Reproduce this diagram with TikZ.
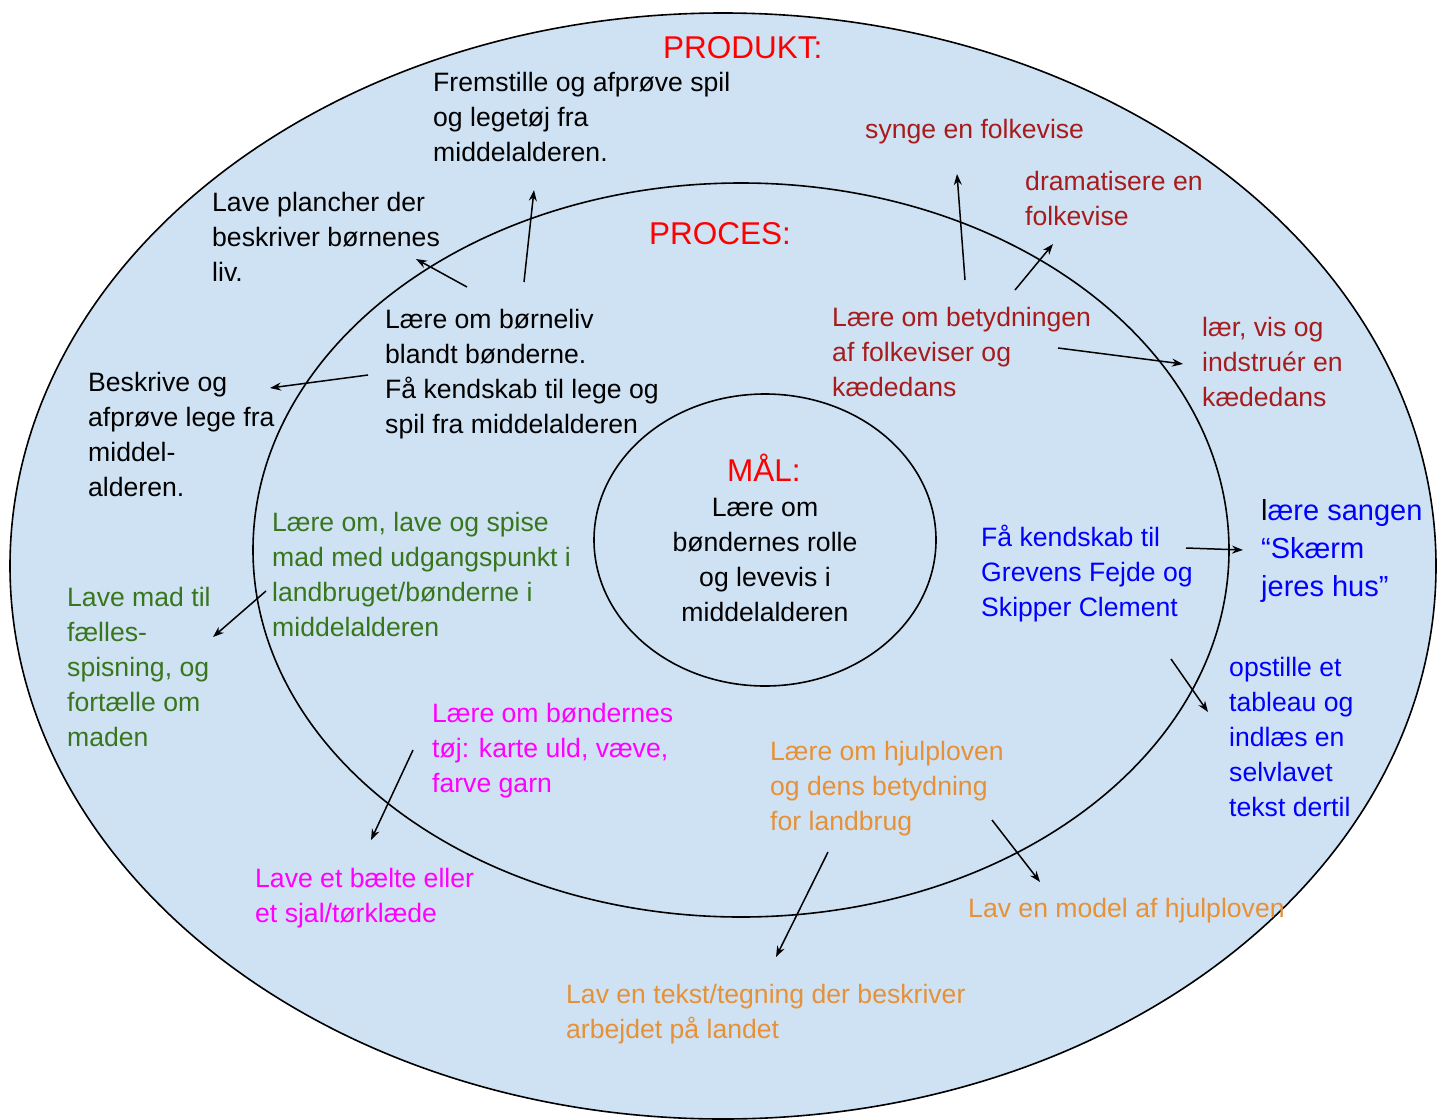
\documentclass[tikz,border=0pt]{standalone}
\usepackage{fontspec}
\setmainfont{Liberation Sans}
\usetikzlibrary{arrows.meta}
\definecolor{bgblue}{HTML}{CFE2F3}
\definecolor{hdred}{HTML}{FF0000}
\definecolor{dred}{HTML}{A61C1C}
\definecolor{dgreen}{HTML}{38761D}
\definecolor{mag}{HTML}{FF00FF}
\definecolor{orng}{HTML}{E69138}
\definecolor{blu}{HTML}{0000FF}
\newcommand{\fl}{\rule{0pt}{25pt}}
\newcommand{\flb}{\rule{0pt}{27pt}}
\tikzset{
 txt/.style={font=\fontsize{26.6}{35}\selectfont, align=left, anchor=north west, inner sep=0pt},
 hd/.style={font=\fontsize{31.5}{38}\selectfont, text=hdred, anchor=base west, inner sep=0pt},
 arr/.style={line width=1.5pt, -{Stealth[length=11pt,width=8pt]}},
 ring/.style={draw=black, line width=1.6pt},
}
\begin{document}
\begin{tikzpicture}[x=1pt,y=-1pt]
\useasboundingbox (0,0) rectangle (1445,1119);
\fill[white] (0,0) rectangle (1445,1119);
% rings
\begin{scope}
\clip (0,0) rectangle (1445,1119);
\draw[ring, fill=bgblue] (723,566) ellipse [x radius=713, y radius=553];
\end{scope}
\draw[ring] (741,550) ellipse [x radius=488, y radius=367];
\draw[ring] (765,540) ellipse [x radius=171, y radius=146];
% headings
\node[hd] (produkt) at (663,58) {PRODUKT:};
\node[hd] (proces) at (649,244) {PROCES:};
\node[hd] (maal) at (727,481) {MÅL:};
% centre
\node[txt, align=center, anchor=north] (goal) at (765,491) {\fl Lære om\\bøndernes rolle\\og levevis i\\middelalderen};
% black group
\node[txt] (fremstille) at (433,66) {\fl Fremstille og afprøve spil\\og legetøj fra\\middelalderen.};
\node[txt] (plancher) at (212,186) {\fl Lave plancher der\\beskriver børnenes\\liv.};
\node[txt] (borneliv) at (385,303) {\fl Lære om børneliv\\blandt bønderne.\\Få kendskab til lege og\\spil fra middelalderen};
\node[txt] (beskrive) at (88,366) {\fl Beskrive og\\afprøve lege fra\\middel-\\alderen.};
% dark red group
\node[txt, text=dred] (synge) at (865,113) {\fl synge en folkevise};
\node[txt, text=dred] (drama) at (1025,165) {\fl dramatisere en\\folkevise};
\node[txt, text=dred] (folkeviser) at (832,301) {\fl Lære om betydningen\\af folkeviser og\\kædedans};
\node[txt, text=dred] (kaededans) at (1202,311) {\fl lær, vis og\\indstruér en\\kædedans};
% blue group
\node[txt, text=blu] (grevens) at (981,521) {\fl Få kendskab til\\Grevens Fejde og\\Skipper Clement};
\node[txt, text=blu, font=\fontsize{29}{38}\selectfont] (sangen) at (1261,493) {\flb{\color{black}l}ære sangen\\“Skærm\\jeres hus”};
\node[txt, text=blu] (tableau) at (1229,651) {\fl opstille et\\tableau og\\indlæs en\\selvlavet\\tekst dertil};
% green group
\node[txt, text=dgreen] (mad) at (272,506) {\fl Lære om, lave og spise\\mad med udgangspunkt i\\landbruget/bønderne i\\middelalderen};
\node[txt, text=dgreen] (lavemad) at (67,581) {\fl Lave mad til\\fælles-\\spisning, og\\fortælle om\\maden};
% magenta group
\node[txt, text=mag] (toej) at (432,697) {\fl Lære om bøndernes\\tøj: karte uld, væve,\\farve garn};
\node[txt, text=mag] (baelte) at (255,862) {\fl Lave et bælte eller\\et sjal/tørklæde};
% orange group
\node[txt, text=orng] (hjulplov) at (770,735) {\fl Lære om hjulploven\\og dens betydning\\for landbrug};
\node[txt, text=orng] (model) at (968,892) {\fl Lav en model af hjulploven};
\node[txt, text=orng] (tegning) at (566,978) {\fl Lav en tekst/tegning der beskriver\\arbejdet på landet};
% arrow end points
\coordinate (a1) at (524,282); \coordinate (a2) at (534,190);
\coordinate (b1) at (467,287); \coordinate (b2) at (416,259);
\coordinate (c1) at (368,375); \coordinate (c2) at (270,388);
\coordinate (d1) at (965,280); \coordinate (d2) at (957,174);
\coordinate (e1) at (1015,290); \coordinate (e2) at (1053,244);
\coordinate (f1) at (1058,348); \coordinate (f2) at (1183,364);
\coordinate (g1) at (1186,548); \coordinate (g2) at (1243,550);
\coordinate (h1) at (1171,659); \coordinate (h2) at (1208,712);
\coordinate (i1) at (266,591); \coordinate (i2) at (213,637);
\coordinate (j1) at (413,750); \coordinate (j2) at (371,840);
\coordinate (k1) at (992,820); \coordinate (k2) at (1040,882);
\coordinate (l1) at (828,852); \coordinate (l2) at (776,957);
\draw[arr] (a1) -- (a2);
\draw[arr] (b1) -- (b2);
\draw[arr] (c1) -- (c2);
\draw[arr] (d1) -- (d2);
\draw[arr] (e1) -- (e2);
\draw[arr] (f1) -- (f2);
\draw[arr] (g1) -- (g2);
\draw[arr] (h1) -- (h2);
\draw[arr] (i1) -- (i2);
\draw[arr] (j1) -- (j2);
\draw[arr] (k1) -- (k2);
\draw[arr] (l1) -- (l2);
\end{tikzpicture}
\end{document}
